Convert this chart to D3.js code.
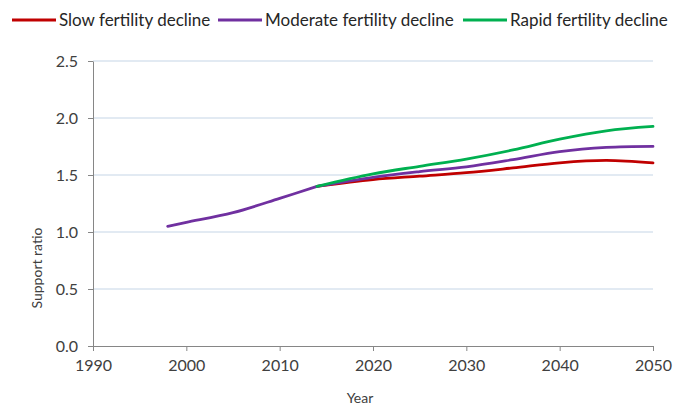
<!DOCTYPE html>
<html>
<head>
<meta charset="utf-8">
<script src="https://cdn.jsdelivr.net/npm/d3@7"></script>
<style>
  body { margin: 0; background: #fff; }
  svg { font-family: Lato, "Open Sans", sans-serif; }
</style>
</head>
<body>
<svg id="chart" width="673" height="407"></svg>
<script>
// values
const histYears = [1998, 2000, 2005, 2010, 2014]
const histValues = [1.05, 1.085, 1.17, 1.295, 1.40]

const projYears = [2014, 2020, 2025, 2030, 2035, 2040, 2045, 2050]
const slowValues = [1.40, 1.46, 1.49, 1.52, 1.562, 1.607, 1.628, 1.606]
const moderateValues = [1.40, 1.48, 1.53, 1.572, 1.635, 1.705, 1.742, 1.751]
const rapidValues = [1.40, 1.51, 1.576, 1.64, 1.72, 1.815, 1.888, 1.926]

const seriesNames = ["Slow fertility decline", "Moderate fertility decline", "Rapid fertility decline"]
const seriesColors = ["#c00000", "#7030a0", "#00b050"]
const xTicks = [1990, 2000, 2010, 2020, 2030, 2040, 2050]
const yTicks = [0, 0.5, 1.0, 1.5, 2.0, 2.5]

const svg = d3.select('#chart')
const margin = ({ top: 61, right: 20, bottom: 61, left: 93 })
const width = 673, height = 407

const x = d3.scaleLinear()
    .domain([1990, 2050])
    .range([margin.left, width - margin.right])
const y = d3.scaleLinear()
    .domain([0, 2.5])
    .range([height - margin.bottom, margin.top])

// gridlines
svg.append('g')
    .selectAll('line')
    .data(yTicks.slice(1))
    .join('line')
        .attr('x1', x(1990))
        .attr('x2', x(2050))
        .attr('y1', d => y(d))
        .attr('y2', d => y(d))
        .attr('stroke', '#c5d5e6')
        .attr('stroke-width', 1)

// axes
const xAxis = g => g
    .attr('class', 'x-axis')
    .attr('transform', `translate(0,${y(0)})`)
    .call(d3.axisBottom(x).tickValues(xTicks).tickFormat(d3.format('d')).tickSize(5).tickSizeOuter(0))
const yAxis = g => g
    .attr('class', 'y-axis')
    .attr('transform', `translate(${x(1990)},0)`)
    .call(d3.axisLeft(y).tickValues(yTicks).tickFormat(d3.format('.1f')).tickSize(5).tickSizeOuter(0))

svg.append('g').call(xAxis)
svg.append('g').call(yAxis)

svg.selectAll('.domain, .tick line').attr('stroke', '#868686')
svg.selectAll('.tick text')
    .attr('fill', '#404040')
    .style('font-size', '16px')
    .style('font-family', 'Lato, "Open Sans", sans-serif')
svg.selectAll('.x-axis .tick text').attr('y', 11).attr('dy', '0.9em')
svg.selectAll('.y-axis .tick text').attr('x', -15)

// lines
const line = d3.line()
    .x(d => x(d[0]))
    .y(d => y(d[1]))
    .curve(d3.curveCatmullRom)

const series = [
    { pts: d3.zip(projYears, slowValues), color: seriesColors[0] },
    { pts: d3.zip(histYears, histValues), color: seriesColors[1] },
    { pts: d3.zip(projYears, moderateValues), color: seriesColors[1] },
    { pts: d3.zip(projYears, rapidValues), color: seriesColors[2] }
]

svg.append('g')
    .selectAll('path')
    .data(series)
    .join('path')
        .attr('d', d => line(d.pts))
        .attr('fill', 'none')
        .attr('stroke', d => d.color)
        .attr('stroke-width', 2.8)
        .attr('stroke-linecap', 'round')

// axis titles
svg.append('text')
    .attr('x', 360)
    .attr('y', 403)
    .attr('text-anchor', 'middle')
    .attr('fill', '#404040')
    .style('font-size', '14px')
    .text('Year')

svg.append('text')
    .attr('transform', 'translate(42,268) rotate(-90)')
    .attr('text-anchor', 'middle')
    .attr('fill', '#404040')
    .style('font-size', '14px')
    .text('Support ratio')

// legend
const legendX = [12, 218, 463]
const legend = svg.append('g')
    .selectAll('g')
    .data(seriesNames)
    .join('g')
        .attr('transform', (d, i) => `translate(${legendX[i]},20)`)
legend.append('line')
    .attr('x1', 0).attr('x2', 44)
    .attr('stroke', (d, i) => seriesColors[i])
    .attr('stroke-width', 3)
legend.append('text')
    .attr('x', 47)
    .attr('dy', '0.35em')
    .attr('fill', '#262626')
    .style('font-size', '17px')
    .text(d => d)
</script>
</body>
</html>
